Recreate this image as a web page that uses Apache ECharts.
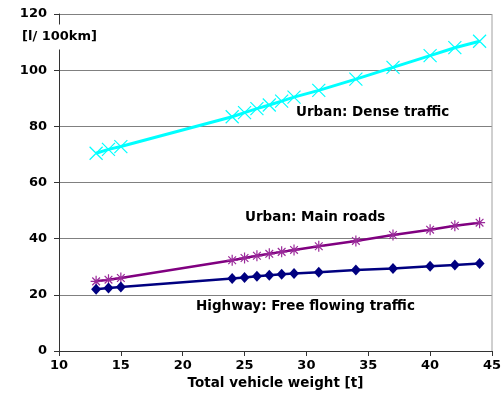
<!DOCTYPE html>
<html>
<head>
<meta charset="utf-8">
<script src="https://cdn.jsdelivr.net/npm/echarts@6/dist/echarts.min.js"></script>
<style>
  html, body { margin: 0; padding: 0; background: #fff; }
  #chart { width: 504px; height: 397px; }
</style>
</head>
<body>
<div id="chart"></div>
<script>
// Vehicle weight (t) at which fuel consumption was measured
const weights = [13, 14, 15, 24, 25, 26, 27, 28, 29, 31, 34, 37, 40, 42, 44];

// Fuel consumption in l/100km for each driving situation
const urbanDense = [70.4, 71.8, 72.8, 83.4, 84.9, 86.3, 87.6, 89.0, 90.4, 92.8, 96.8, 101.0, 105.2, 108.0, 110.3];
const urbanMain = [24.8, 25.4, 26.0, 32.3, 33.1, 33.9, 34.6, 35.3, 36.0, 37.3, 39.2, 41.3, 43.2, 44.6, 45.7];
const highway = [22.0, 22.4, 22.8, 25.8, 26.2, 26.6, 27.0, 27.3, 27.6, 28.0, 28.8, 29.4, 30.2, 30.6, 31.2];

const seriesNames = ['Urban: Dense traffic', 'Urban: Main roads', 'Highway: Free flowing traffic'];
const xTitle = 'Total vehicle weight [t]';
const yTitle = '[l/ 100km]';

const font = '"DejaVu Sans", sans-serif';

function pairs(ys) {
  return weights.map((w, i) => [w, ys[i]]);
}

function caption(text, x, y, size) {
  return {
    type: 'text',
    x: x, y: y,
    style: {
      text: text,
      fontFamily: font, fontWeight: 'bold', fontSize: size, fill: '#000',
      verticalAlign: 'middle', textVerticalAlign: 'middle'
    },
    z: 100
  };
}

const chart = echarts.init(document.getElementById('chart'), null, { renderer: 'canvas' });

chart.setOption({
  animation: false,
  backgroundColor: '#fff',
  grid: { left: 59, right: 12, top: 14, bottom: 46, containLabel: false },
  xAxis: {
    type: 'value',
    min: 10, max: 45, interval: 5,
    name: xTitle,
    nameLocation: 'middle',
    nameGap: 24,
    nameTextStyle: { fontFamily: font, fontWeight: 'bold', fontSize: 13.5, color: '#000' },
    axisLine: { lineStyle: { color: '#333', width: 1 } },
    axisTick: { show: true, length: 5, lineStyle: { color: '#333' } },
    axisLabel: { fontFamily: font, fontWeight: 'bold', fontSize: 13, color: '#000', margin: 8 },
    splitLine: { show: false }
  },
  yAxis: {
    type: 'value',
    min: 0, max: 120, interval: 20,
    axisLine: { show: true, lineStyle: { color: '#333', width: 1 } },
    axisTick: { show: true, length: 5, lineStyle: { color: '#333' } },
    axisLabel: { fontFamily: font, fontWeight: 'bold', fontSize: 13, color: '#000', margin: 12 },
    splitLine: { show: true, lineStyle: { color: '#808080', width: 1 } }
  },
  graphic: [
    // right frame edge of the plot area
    {
      type: 'line',
      shape: { x1: 492, y1: 14, x2: 492, y2: 351 },
      style: { stroke: '#a0a0a0', lineWidth: 1 },
      z: 1
    },
    // y-axis unit label, masking the axis line behind it
    {
      type: 'text',
      x: 21, y: 37,
      style: {
        text: yTitle,
        fontFamily: font, fontWeight: 'bold', fontSize: 13, fill: '#000',
        verticalAlign: 'middle', textVerticalAlign: 'middle',
        backgroundColor: '#fff', padding: [6, 1, 6, 1]
      },
      z: 100
    },
    caption(seriesNames[0], 296, 112, 13.5),
    caption(seriesNames[1], 245, 217, 13.5),
    caption(seriesNames[2], 196, 306, 13.5)
  ],
  series: [
    {
      name: seriesNames[0],
      type: 'line',
      data: pairs(urbanDense),
      lineStyle: { color: '#00ffff', width: 3 },
      symbol: 'path://M0,0L10,10M10,0L0,10',
      symbolSize: 13,
      itemStyle: { color: 'rgba(0,0,0,0)', borderColor: '#00ffff', borderWidth: 1.2 },
      z: 3
    },
    {
      name: seriesNames[1],
      type: 'line',
      data: pairs(urbanMain),
      lineStyle: { color: '#800080', width: 2.5 },
      symbol: 'path://M5,0L5,10M0,5L10,5M1.5,1.5L8.5,8.5M8.5,1.5L1.5,8.5',
      symbolSize: 11,
      itemStyle: { color: 'rgba(0,0,0,0)', borderColor: '#9a2a9a', borderWidth: 1.2 },
      z: 3
    },
    {
      name: seriesNames[2],
      type: 'line',
      data: pairs(highway),
      lineStyle: { color: '#000080', width: 2.5 },
      symbol: 'diamond',
      symbolSize: [10, 11],
      itemStyle: { color: '#000080', borderWidth: 0 },
      z: 3
    }
  ]
});
</script>
</body>
</html>
